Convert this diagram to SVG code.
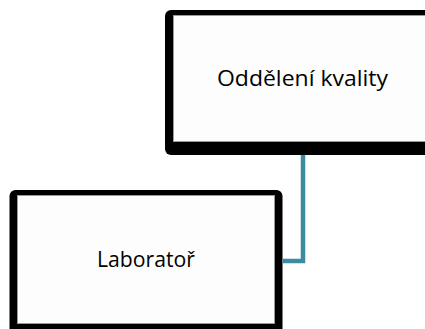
<svg xmlns="http://www.w3.org/2000/svg" width="425" height="329" viewBox="0 0 425 329">
  <style>
    .frame { fill: #000000; }
    .face { fill: #fdfdfd; stroke: #9a9a9a; stroke-width: 1; }
    .label { font-family: "Open Sans", "Liberation Sans", sans-serif; font-size: 21px; fill: #000000; text-anchor: middle; }
    .conn { fill: none; stroke: #3a8ca0; stroke-width: 4.5; stroke-linejoin: miter; stroke-linecap: butt; }
  </style>
  <rect width="425" height="329" fill="#ffffff"/>
  <g id="connectors">
    <path class="conn" d="M 303 154 V 261 H 283"/>
  </g>
  <g id="node-kvalita">
    <rect class="frame" x="165" y="10" width="275" height="145" rx="6"/>
    <rect class="face" x="173.5" y="15.5" width="270" height="126"/>
    <text class="label" x="302.5" y="86" textLength="171" lengthAdjust="spacingAndGlyphs">Oddělení kvality</text>
  </g>
  <g id="node-laborator">
    <rect class="frame" x="9.5" y="190" width="273" height="150" rx="6"/>
    <rect class="face" x="17.5" y="195.5" width="257" height="128"/>
    <text class="label" x="146" y="267" textLength="98" lengthAdjust="spacingAndGlyphs">Laboratoř</text>
  </g>
</svg>
